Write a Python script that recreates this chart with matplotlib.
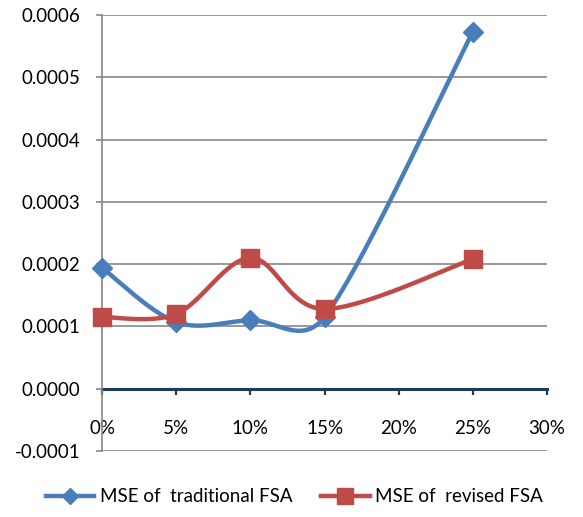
"""MSE of traditional vs revised FSA, Excel-style smoothed scatter"""

import numpy as np
import matplotlib
matplotlib.use('Agg')
import matplotlib.pyplot as plt
from matplotlib.ticker import FuncFormatter, MultipleLocator

# Data
noise_levels = [0.00, 0.05, 0.10, 0.15, 0.25]
mse_traditional = [0.000194, 0.000107, 0.000110, 0.000115, 0.000573]
mse_revised = [0.000115, 0.000120, 0.000210, 0.000128, 0.000208]
labels = ['MSE of  traditional FSA', 'MSE of  revised FSA']

BLUE = '#4A7EBB'
RED = '#BE4B48'
GRID = '#878787'
AXIS = '#1F3A5F'


def excel_smooth(ax, xs, ys, n=60):
    """Bezier smoothing like Excel's 'smoothed line', done in pixel space."""
    pts = ax.transData.transform(np.column_stack([xs, ys]))
    out = []
    for i in range(len(pts) - 1):
        p0 = pts[i - 1] if i > 0 else pts[i]
        p1 = pts[i]
        p2 = pts[i + 1]
        p3 = pts[i + 2] if i + 2 < len(pts) else pts[i + 1]
        d02 = np.hypot(*(p2 - p0))
        d12 = np.hypot(*(p2 - p1))
        d13 = np.hypot(*(p3 - p1))
        f = min(1 / 6, d12 / (2 * d02)) if d02 > 0 else 0
        g = min(1 / 6, d12 / (2 * d13)) if d13 > 0 else 0
        c1 = p1 + f * (p2 - p0)
        c2 = p2 - g * (p3 - p1)
        t = np.linspace(0, 1, n)[:, None]
        seg = ((1 - t) ** 3 * p1 + 3 * (1 - t) ** 2 * t * c1
               + 3 * (1 - t) * t ** 2 * c2 + t ** 3 * p2)
        out.append(seg if i == 0 else seg[1:])
    curve = ax.transData.inverted().transform(np.vstack(out))
    return curve[:, 0], curve[:, 1]


def main():
    plt.rcParams['font.family'] = ['Lato', 'DejaVu Sans']

    fig = plt.figure(figsize=(5.83, 5.17), dpi=100)
    ax = fig.add_axes([102 / 583, 66 / 517, 445 / 583, 436 / 517])

    ax.set_xlim(0, 0.30)
    ax.set_ylim(-0.0001, 0.0006)

    ax.yaxis.set_major_locator(MultipleLocator(0.0001))
    ax.xaxis.set_major_locator(MultipleLocator(0.05))
    ax.yaxis.set_major_formatter(FuncFormatter(lambda v, p: f'{v:.4f}'))
    ax.xaxis.set_major_formatter(FuncFormatter(lambda v, p: f'{v * 100:.0f}%'))

    ax.grid(axis='y', color=GRID, linewidth=1.2)
    ax.set_axisbelow(True)

    for side in ['top', 'right']:
        ax.spines[side].set_visible(False)
    ax.spines['left'].set_color(GRID)
    ax.spines['left'].set_linewidth(1.2)
    ax.spines['bottom'].set_position(('data', 0))
    ax.spines['bottom'].set_color(AXIS)
    ax.spines['bottom'].set_linewidth(2.2)
    ax.spines['bottom'].set_zorder(1.5)

    ax.tick_params(axis='y', direction='out', length=4.5, width=1.2,
                   color=GRID, pad=11, labelsize=13.5)
    ax.tick_params(axis='x', direction='out', length=4.5, width=1.6,
                   color=AXIS, pad=18, labelsize=13.5)

    series = [(mse_traditional, BLUE, 'D', 10), (mse_revised, RED, 's', 13)]
    for (vals, color, marker, ms), label in zip(series, labels):
        sx, sy = excel_smooth(ax, noise_levels, vals)
        ax.plot(sx, sy, color=color, linewidth=3.2, solid_capstyle='round',
                zorder=3, clip_on=False)
        ax.plot(noise_levels, vals, linestyle='none', marker=marker,
                markersize=ms, color=color, zorder=4, clip_on=False)
        ax.plot([], [], color=color, linewidth=3.2, marker=marker,
                markersize=ms * 0.85, label=label)

    fig.legend(loc='center', bbox_to_anchor=(0.505, 0.039), ncol=2,
               frameon=False, fontsize=13.5, handlelength=2.6,
               handletextpad=0.3, columnspacing=1.5, numpoints=1)

    fig.savefig('out.png', dpi=100)


if __name__ == '__main__':
    main()
